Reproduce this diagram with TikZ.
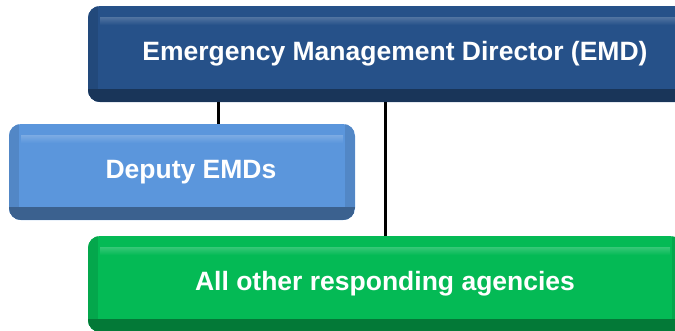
\documentclass[tikz,border=0pt]{standalone}
\usepackage{fontspec}
\setmainfont{Liberation Sans}
\usetikzlibrary{positioning,calc}
\definecolor{emdblue}{RGB}{38,81,137}
\definecolor{deputyblue}{RGB}{91,150,220}
\definecolor{agencygreen}{RGB}{4,186,85}
\tikzset{
  orgbox/.style={rounded corners=12pt, fill=#1, text=white, inner sep=0pt,
    minimum height=96pt, font=\fontsize{26.5}{30}\selectfont\bfseries,
    path picture={
      \begin{scope}[sharp corners]
      \fill[#1!90!black] (path picture bounding box.south west) rectangle ([xshift=10pt]path picture bounding box.north west);
      \fill[#1!90!black] ([xshift=-10pt]path picture bounding box.south east) rectangle (path picture bounding box.north east);
      \fill[#1!65!black] ([yshift=13pt]path picture bounding box.south west) rectangle (path picture bounding box.south east);
      \shade[top color=#1!80!white, bottom color=#1] ([xshift=12pt,yshift=-11pt]path picture bounding box.north west) rectangle ([xshift=-12pt,yshift=-19pt]path picture bounding box.north east);
      \end{scope}
    }},
  link/.style={line width=3pt, black}
}
\begin{document}
\begin{tikzpicture}[x=1pt,y=-1pt]
\useasboundingbox (0,0) rectangle (675,330);
\node[orgbox=emdblue, minimum width=614pt] (emd) at (395,54) {Emergency Management Director (EMD)};
\node[orgbox=deputyblue, minimum width=346pt] (dep) at (182,172) {\hspace*{18pt}Deputy EMDs};
\node[orgbox=agencygreen, minimum width=594pt] (agency) at (385,284) {All other responding agencies};

\coordinate (j1) at (218,0);
\coordinate (j2) at (385,0);
\draw[link] (emd.south -| j1) -- (dep.north -| j1);
\draw[link] (emd.south -| j2) -- (agency.north -| j2);
\end{tikzpicture}
\end{document}
